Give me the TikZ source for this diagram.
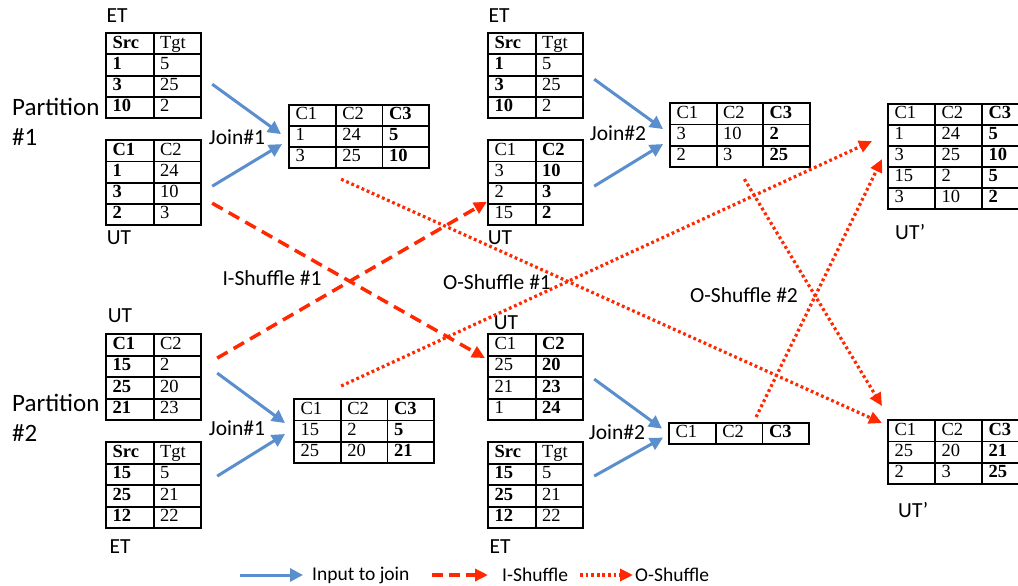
\documentclass[tikz,border=0pt]{standalone}
\usepackage{fontspec}
\setmainfont{Carlito}
\newfontfamily\tabfont{Liberation Serif}
\usetikzlibrary{matrix,arrows.meta,calc}
\definecolor{joinblue}{RGB}{90,142,205}
\definecolor{shufred}{RGB}{255,40,0}
\tikzset{
  tbl/.style 2 args={matrix of nodes, inner sep=0pt, anchor=north west,
    column sep=-1.8pt, row sep=-1.8pt,
    nodes={draw=black, line width=1.8pt, minimum height=#2, inner ysep=0pt,
      inner xsep=6.5pt, text width=#1, align=left,
      font=\tabfont\fontsize{18.5}{21}\selectfont, text height=12.5pt, text depth=4pt}},
  lbl/.style={font=\fontsize{21.5}{24}\selectfont, inner sep=0pt},
  ptn/.style={font=\fontsize{25}{28}\selectfont, inner sep=0pt, anchor=west},
  leg/.style={font=\fontsize{19.5}{22}\selectfont, inner sep=0pt, anchor=west},
  joinarrow/.style={draw=joinblue, line width=3pt, -{Triangle[length=13pt,width=13pt]}},
  ishuf/.style={draw=shufred, line width=3.5pt, dash pattern=on 12pt off 7pt, -{Triangle[length=13pt,width=12pt]}},
  oshuf/.style={draw=shufred, line width=3.2pt, dash pattern=on 2.8pt off 2.8pt, -{Triangle[length=13pt,width=12pt]}},
}
\begin{document}
\begin{tikzpicture}[x=1pt,y=-1pt]
\fill[white] (0,0) rectangle (1018,586);
\useasboundingbox (0,0) rectangle (1018,586);

% ---------- Partition 1 ----------
\node[lbl] (etA) at (117,16) {ET};
\matrix (p1et) [tbl={34.5pt}{21.3pt}] at (105,32) {
  \textbf{Src} & Tgt \\
  \textbf{1} & 5 \\
  \textbf{3} & 25 \\
  \textbf{10} & 2 \\
};
\matrix (p1ut) [tbl={34.5pt}{21.3pt}] at (105,139) {
  \textbf{C1} & C2 \\
  \textbf{1} & 24 \\
  \textbf{3} & 10 \\
  \textbf{2} & 3 \\
};
\node[lbl] (utA) at (119,238) {UT};
\node[ptn] (part1) at (12,107) {Partition};
\node[ptn] (part1n) at (12,137) {\#1};
\node[lbl] (joinA) at (237,137) {Join\#1};
\matrix (p1j1) [tbl={33.7pt}{21pt}] at (288,104) {
  C1 & C2 & \textbf{C3} \\
  1 & 24 & \textbf{5} \\
  3 & 25 & \textbf{10} \\
};

\node[lbl] (etB) at (499,16) {ET};
\matrix (p1et2) [tbl={34.5pt}{21.3pt}] at (487,32) {
  \textbf{Src} & Tgt \\
  \textbf{1} & 5 \\
  \textbf{3} & 25 \\
  \textbf{10} & 2 \\
};
\matrix (p1ut2) [tbl={34.5pt}{21.3pt}] at (487,139) {
  C1 & \textbf{C2} \\
  3 & \textbf{10} \\
  2 & \textbf{3} \\
  15 & \textbf{2} \\
};
\node[lbl] (utB) at (500,238) {UT};
\node[lbl] (joinB) at (618,133) {Join\#2};
\matrix (p1j2) [tbl={33.5pt}{21.3pt}] at (669,102) {
  C1 & C2 & \textbf{C3} \\
  3 & 10 & \textbf{2} \\
  2 & 3 & \textbf{25} \\
};

\matrix (utpa) [tbl={34pt}{21pt}] at (887,103) {
  C1 & C2 & \textbf{C3} \\
  1 & 24 & \textbf{5} \\
  3 & 25 & \textbf{10} \\
  15 & 2 & \textbf{5} \\
  3 & 10 & \textbf{2} \\
};
\node[lbl, anchor=west] (utpaL) at (895,232) {UT’};

% ---------- Partition 2 ----------
\node[lbl] (utC) at (120,316) {UT};
\matrix (p2ut) [tbl={34.5pt}{21.5pt}] at (105,333) {
  \textbf{C1} & C2 \\
  \textbf{15} & 2 \\
  \textbf{25} & 20 \\
  \textbf{21} & 23 \\
};
\matrix (p2et) [tbl={34.5pt}{21.5pt}] at (105,441) {
  \textbf{Src} & Tgt \\
  \textbf{15} & 5 \\
  \textbf{25} & 21 \\
  \textbf{12} & 22 \\
};
\node[lbl] (etC) at (120,547) {ET};
\node[ptn] (part2) at (12,403) {Partition};
\node[ptn] (part2n) at (12,433) {\#2};
\node[lbl] (joinC) at (237,428) {Join\#1};
\matrix (p2j1) [tbl={33.7pt}{21.3pt}] at (293,398) {
  C1 & C2 & \textbf{C3} \\
  15 & 2 & \textbf{5} \\
  25 & 20 & \textbf{21} \\
};

\node[lbl] (utD) at (506,323) {UT};
\matrix (p2ut2) [tbl={34.5pt}{21.5pt}] at (487,333) {
  C1 & \textbf{C2} \\
  25 & \textbf{20} \\
  21 & \textbf{23} \\
  1 & \textbf{24} \\
};
\matrix (p2et2) [tbl={34.5pt}{21.5pt}] at (487,441) {
  \textbf{Src} & Tgt \\
  \textbf{15} & 5 \\
  \textbf{25} & 21 \\
  \textbf{12} & 22 \\
};
\node[lbl] (etD) at (500,547) {ET};
\node[lbl] (joinD) at (617,432) {Join\#2};
\matrix (p2j2) [tbl={33.7pt}{21pt}] at (668,422) {
  C1 & C2 & \textbf{C3} \\
};

\matrix (utpb) [tbl={34pt}{21.3pt}] at (887,419) {
  C1 & C2 & \textbf{C3} \\
  25 & 20 & \textbf{21} \\
  2 & 3 & \textbf{25} \\
};
\node[lbl, anchor=west] (utpbL) at (898,510) {UT’};

% ---------- shuffle labels ----------
\node[lbl] (ish1) at (272,278) {I-Shuffle \#1};
\node[lbl] (osh1) at (497,282) {O-Shuffle \#1};
\node[lbl] (osh2) at (744,295) {O-Shuffle \#2};

% ---------- join inputs ----------
\draw[joinarrow] ($(p1et.east)+(10,8.5)$) -- ($(p1j1.west)+(-7,-2.5)$);
\draw[joinarrow] ($(p1ut.east)+(10,3.5)$) -- ($(p1j1.west)+(-6,7.5)$);
\draw[joinarrow] ($(p1et2.east)+(10,3.5)$) -- ($(p1j2.west)+(-6,-6)$);
\draw[joinarrow] ($(p1ut2.east)+(10,3.5)$) -- ($(p1j2.west)+(-6,9)$);
\draw[joinarrow] ($(p2ut.east)+(15,-4)$) -- ($(p2j1.west)+(-8,-8)$);
\draw[joinarrow] ($(p2et.east)+(15,-9)$) -- ($(p2j1.west)+(-8,3)$);
\draw[joinarrow] ($(p2ut2.east)+(10,2)$) -- ($(p2j2.west)+(-6,-5)$);
\draw[joinarrow] ($(p2et2.east)+(10,-9)$) -- ($(p2j2.west)+(-5,4)$);

% ---------- I-shuffle ----------
\draw[ishuf] ($(p1ut.east)+(10,20.5)$) -- ($(p2ut2.west)+(-2,-19)$);
\draw[ishuf] ($(p2ut.east)+(15,-19)$) -- ($(p1ut2.west)+(0,19)$);

% ---------- O-shuffle ----------
\draw[oshuf] ($(p1j1.south)+(-18,10)$) -- ($(utpb.west)+(-5,-29)$);
\draw[oshuf] ($(p1j2.south)+(4.5,11)$) -- ($(utpb.west)+(-5,-46)$);
\draw[oshuf] ($(p2j1.north)+(-23,-12)$) -- ($(utpa.west)+(-15,-15.5)$);
\draw[oshuf] ($(p2j2.north)+(17,-5)$) -- ($(utpa.west)+(-5,2.5)$);

% ---------- legend ----------
\coordinate (lg1) at (240,575);
\node[leg] (lg1t) at (312,575) {Input to join};
\draw[joinarrow] (lg1) -- ($(lg1t.west)+(-9,0)$);
\coordinate (lg2) at (432,575);
\node[leg] (lg2t) at (502,575) {I-Shuffle};
\draw[ishuf, dash pattern=on 11pt off 6pt] (lg2) -- ($(lg2t.west)+(-14,0)$);
\coordinate (lg3) at (580,575);
\node[leg] (lg3t) at (635,575) {O-Shuffle};
\draw[oshuf] (lg3) -- ($(lg3t.west)+(-2,0)$);
\end{tikzpicture}
\end{document}
